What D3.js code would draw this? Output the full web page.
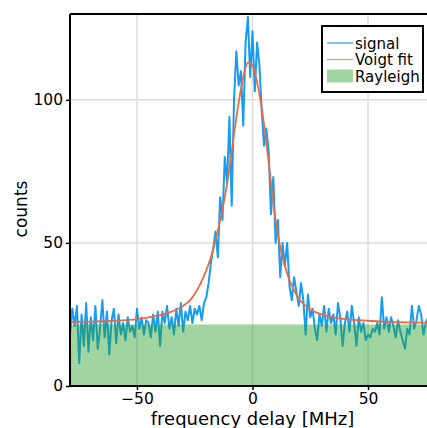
<!DOCTYPE html>
<html>
<head>
<meta charset="utf-8">
<script src="https://cdn.jsdelivr.net/npm/d3@7"></script>
<style>
  body { margin: 0; background: #fff; }
  svg { display: block; font-family: "DejaVu Sans", sans-serif; }
</style>
</head>
<body>
<div id="chart"></div>
<script>
// frequency axis, 1 MHz steps
const freqStart = -79;
const signalCounts = [
  18,27,21,28,8,25,14,29,12,24,16,28,13,20,30,17,26,11,23,27,15,25,18,22,16,24,19,21,17,27,
  20,24,18,23,22,17,25,19,26,14,26,22,28,20,24,18,27,21,29,19,26,23,28,22,27,25,28,23,29,31,
  36,43,48,54,45,66,58,80,71,94,63,100,117,105,110,91,120,129,108,
  124,103,120,112,96,84,90,82,60,73,50,58,38,50,42,50,35,30,38,33,28,36,30,18,32,24,27,20,16,25,21,
  28,19,27,22,25,18,29,24,14,22,26,19,28,22,14,24,19,22,16,18,17,20,19,22,18,31,20,24,19,24,
  21,17,23,19,16,13,20,18,28,20,23,28,25,18,22,24,20,23,21
];
const fitFreq = [-79,-70,-60,-50,-45,-40,-35,-30,-27,-24,-21,-18,-16,-14,-12,-10,-8,-6,-4,-2,0,2,4,6,8,10,12,14,16,18,20,23,26,30,35,40,50,60,70,79];
const fitCounts = [22.3,22.5,22.8,23.4,24.0,24.8,26.0,28.0,30.0,33.5,38.5,45,51,58,66,76,88,99,108,113,112,106,97,85,71,58,48.5,42,37,33.5,30.5,28,26.3,25,24,23.4,22.8,22.4,22.2,22.1];
const rayleighLevel = 21.5;
const xTicks = [-50, 0, 50];
const yTicks = [0, 50, 100];
const legendLabels = ["signal", "Voigt fit", "Rayleigh"];

const signalData = signalCounts.map((v, i) => ({f: freqStart + i, c: v}));
const fitData = fitFreq.map((f, i) => ({f: f, c: fitCounts[i]}));

const width = 427, height = 428;
const margin = {top: 14, left: 70, bottom: 386, right: 435};

const svg = d3.select('#chart').append('svg')
  .attr('width', width)
  .attr('height', height);

const x = d3.scaleLinear().domain([-79, 79]).range([margin.left, margin.right]);
const y = d3.scaleLinear().domain([0, 130]).range([margin.bottom, margin.top]);

svg.append('defs').append('clipPath').attr('id', 'plot')
  .append('rect')
  .attr('x', margin.left).attr('y', margin.top)
  .attr('width', margin.right - margin.left).attr('height', margin.bottom - margin.top);

// grid
const grid = svg.append('g').attr('stroke', '#dcdcdc').attr('stroke-width', 1.5);
xTicks.forEach(t => grid.append('line')
  .attr('x1', x(t)).attr('x2', x(t)).attr('y1', margin.top).attr('y2', margin.bottom));
yTicks.forEach(t => grid.append('line')
  .attr('x1', margin.left).attr('x2', margin.right).attr('y1', y(t)).attr('y2', y(t)));

const plot = svg.append('g').attr('clip-path', 'url(#plot)');

// signal
plot.append('path')
  .datum(signalData)
  .attr('fill', 'none')
  .attr('stroke', '#169cf2')
  .attr('stroke-width', 2)
  .attr('stroke-linejoin', 'round')
  .attr('d', d3.line().x(d => x(d.f)).y(d => y(d.c)));

// Rayleigh band
plot.append('rect')
  .attr('x', x(-79)).attr('y', y(rayleighLevel))
  .attr('width', x(79) - x(-79)).attr('height', y(0) - y(rayleighLevel))
  .attr('fill', '#2ca02c').attr('fill-opacity', 0.45);

// Voigt fit
plot.append('path')
  .datum(fitData)
  .attr('fill', 'none')
  .attr('stroke', '#ec6a3e')
  .attr('stroke-width', 1.8)
  .attr('d', d3.line().curve(d3.curveMonotoneX).x(d => x(d.f)).y(d => y(d.c)));

// axes
const xAxis = svg.append('g')
  .attr('transform', `translate(0,${margin.bottom})`)
  .call(d3.axisBottom(x).tickValues(xTicks).tickSize(4).tickPadding(3).tickFormat(d => d < 0 ? '\u2212' + Math.abs(d) : d));
const yAxis = svg.append('g')
  .attr('transform', `translate(${margin.left},0)`)
  .call(d3.axisLeft(y).tickValues(yTicks).tickSize(4).tickPadding(3));
[xAxis, yAxis].forEach(a => {
  a.select('.domain').remove();
  a.selectAll('.tick line').attr('stroke', '#000').attr('stroke-width', 1.5);
  a.selectAll('.tick text').attr('font-size', 15.5).attr('fill', '#000')
    .attr('font-family', '"DejaVu Sans", sans-serif');
});

// spines
const spines = svg.append('g').attr('stroke', '#000').attr('stroke-width', 2);
spines.append('line').attr('x1', margin.left).attr('x2', width).attr('y1', margin.top).attr('y2', margin.top);
spines.append('line').attr('x1', margin.left).attr('x2', width).attr('y1', margin.bottom).attr('y2', margin.bottom);
spines.append('line').attr('x1', margin.left).attr('x2', margin.left).attr('y1', margin.top).attr('y2', margin.bottom);

// labels
svg.append('text')
  .attr('x', x(0)).attr('y', 425)
  .attr('text-anchor', 'middle').attr('font-size', 18)
  .text('frequency delay [MHz]');
svg.append('text')
  .attr('transform', `translate(27,209) rotate(-90)`)
  .attr('text-anchor', 'middle').attr('font-size', 17)
  .text('counts');

// legend
const lg = svg.append('g').attr('transform', 'translate(322,26)');
lg.append('rect').attr('width', 101).attr('height', 66)
  .attr('fill', '#fff').attr('stroke', '#000').attr('stroke-width', 2);
lg.append('line').attr('x1', 5).attr('x2', 31).attr('y1', 17).attr('y2', 17)
  .attr('stroke', '#169cf2').attr('stroke-opacity', 0.75).attr('stroke-width', 1.5);
lg.append('line').attr('x1', 5).attr('x2', 31).attr('y1', 33.5).attr('y2', 33.5)
  .attr('stroke', '#ec6a3e').attr('stroke-opacity', 0.75).attr('stroke-width', 1.2);
lg.append('rect').attr('x', 5).attr('y', 43.5).attr('width', 26).attr('height', 13)
  .attr('fill', '#2ca02c').attr('fill-opacity', 0.45);
legendLabels.forEach((t, i) => lg.append('text')
  .attr('x', 33).attr('y', 17 + i * 16.5 + 5.5)
  .attr('font-size', 15).text(t));
</script>
</body>
</html>
